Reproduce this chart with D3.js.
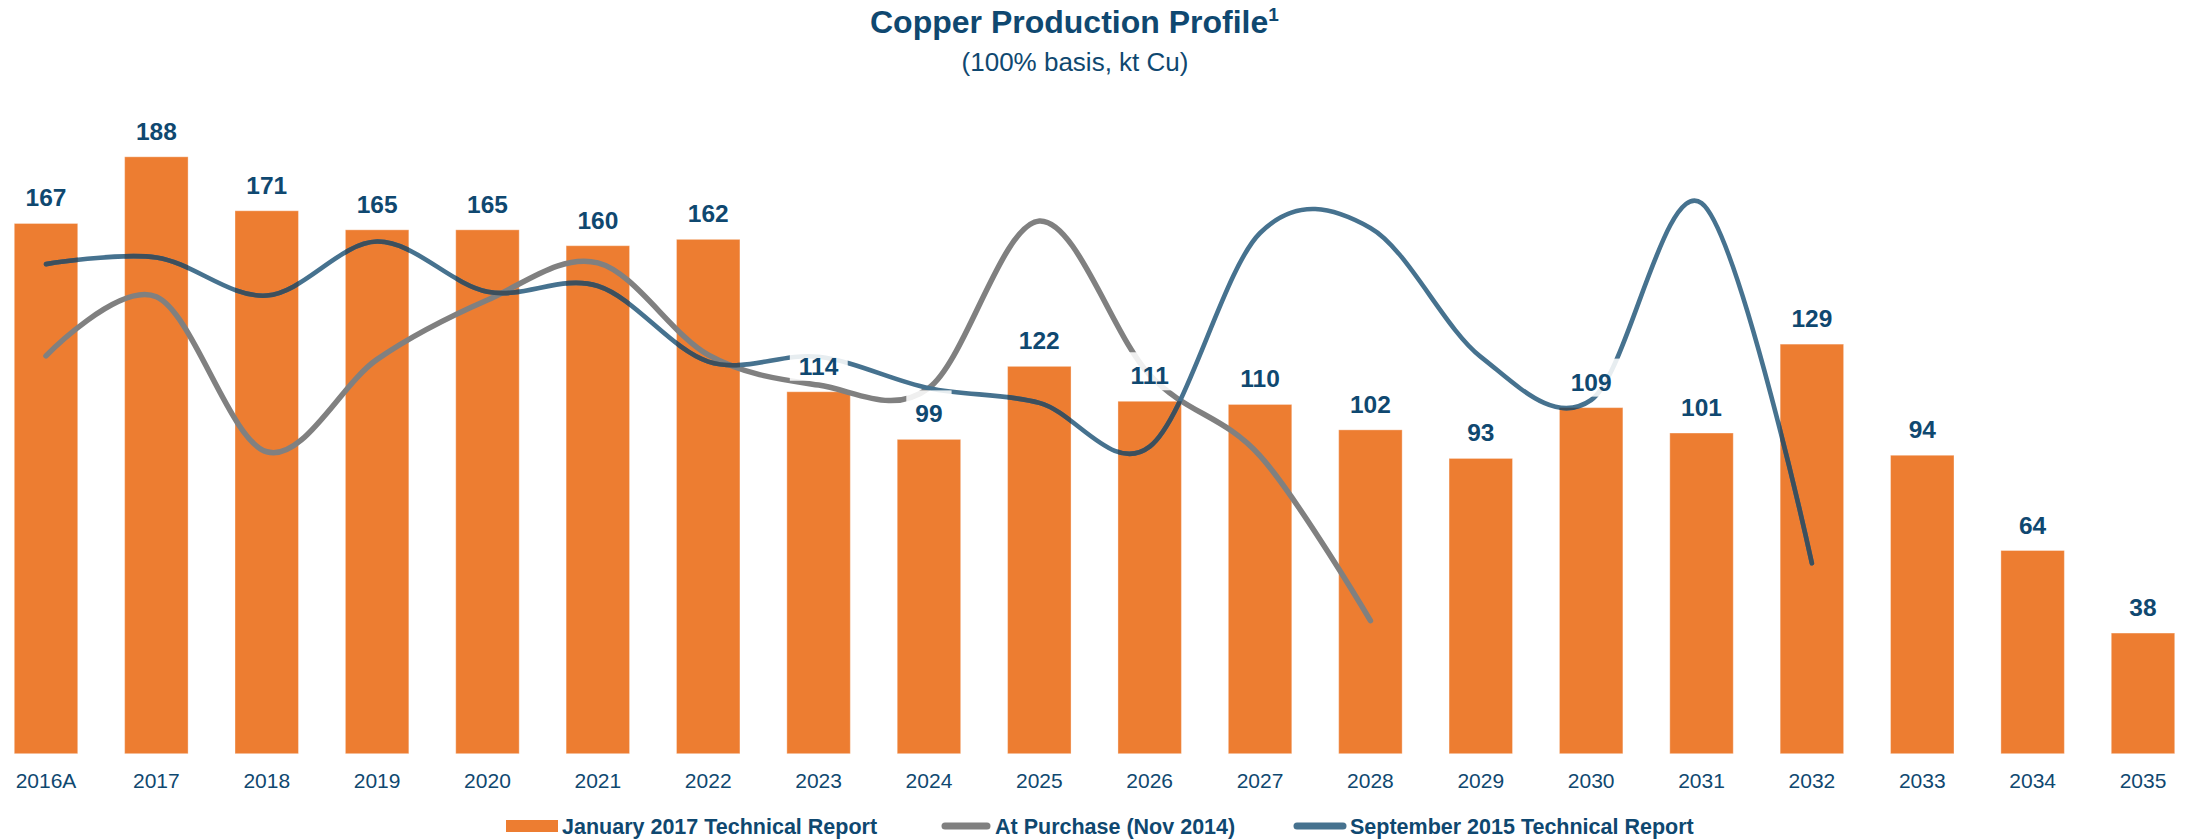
<!DOCTYPE html>
<html>
<head>
<meta charset="utf-8">
<script src="https://cdn.jsdelivr.net/npm/d3@7"></script>
<style>
  html, body { margin: 0; padding: 0; background: #ffffff; }
  svg { display: block; }
  text { font-family: "Liberation Sans", Arial, sans-serif; }
</style>
</head>
<body>
<script>
// ---- data ----
const categories = ["2016A","2017","2018","2019","2020","2021","2022","2023","2024","2025",
                    "2026","2027","2028","2029","2030","2031","2032","2033","2034","2035"];
const jan2017Report = [167,188,171,165,165,160,162,114,99,122,111,110,102,93,109,101,129,94,64,38];
const atPurchaseCats = ["2016A","2017","2018","2019","2020","2021","2022","2023","2024","2025","2026","2027","2028"];
const atPurchase = [125.3,143.9,95.1,124.2,142.9,154.6,125.6,116.1,115.2,167.8,119.3,93.8,41.9];
const sep2015Cats = ["2016A","2017","2018","2019","2020","2021","2022","2023","2024","2025","2026","2027","2028","2029","2030","2031","2032"];
const sep2015Report = [154.2,156.3,144.3,161.3,145.5,147.3,123.5,125.0,115.1,110.5,96.7,164.0,165.6,125.0,111.4,173.4,60.0];
const seriesNames = ["January 2017 Technical Report","At Purchase (Nov 2014)","September 2015 Technical Report"];
const titleText = "Copper Production Profile";
const titleSup = "1";
const subtitleText = "(100% basis, kt Cu)";

// ---- style ----
const W = 2186, H = 839;
const orange = "#ED7D31", gray = "#808080", blue = "#46728F", blueOnBar = "#3d4f5c";
const textColor = "#0f4870";

const svg = d3.select("body").append("svg").attr("width", W).attr("height", H);

const x = d3.scaleBand().domain(categories).range([-7.8, 2196.8])
  .paddingInner(0.425).paddingOuter(0.2);
const y = d3.scaleLinear().domain([0, 200]).range([753.7, 118.7]);

// title
const title = svg.append("text").attr("x", 870).attr("y", 33)
  .attr("font-size", 32).attr("font-weight", "bold").attr("fill", textColor);
title.append("tspan").text(titleText);
title.append("tspan").attr("font-size", 19).attr("dy", -12).text(titleSup);
svg.append("text").attr("x", 1075).attr("y", 71).attr("text-anchor", "middle")
  .attr("font-size", 26).attr("fill", textColor).text(subtitleText);

// bars
const barData = categories.map((c, i) => ({ c, v: jan2017Report[i] }));
svg.append("g").selectAll("rect").data(barData).join("rect")
  .attr("x", d => x(d.c)).attr("width", x.bandwidth())
  .attr("y", d => y(d.v)).attr("height", d => y(0) - y(d.v))
  .attr("fill", orange).attr("stroke", "rgba(255,255,255,0.35)").attr("stroke-width", 1);

// clip for darker blue where it crosses bars
const clip = svg.append("defs").append("clipPath").attr("id", "barclip");
clip.selectAll("rect").data(barData).join("rect")
  .attr("x", d => x(d.c)).attr("width", x.bandwidth())
  .attr("y", d => y(d.v)).attr("height", d => y(0) - y(d.v));

const line = d3.line()
  .x(d => x(d.c) + x.bandwidth() / 2)
  .y(d => y(d.v))
  .curve(d3.curveCardinal.tension(0));

const grayData = atPurchaseCats.map((c, i) => ({ c, v: atPurchase[i] }));
const blueData = sep2015Cats.map((c, i) => ({ c, v: sep2015Report[i] }));

svg.append("path").datum(grayData).attr("d", line)
  .attr("fill", "none").attr("stroke", gray).attr("stroke-width", 5.5)
  .attr("stroke-linecap", "round").attr("stroke-linejoin", "round");
svg.append("path").datum(blueData).attr("d", line)
  .attr("fill", "none").attr("stroke", blue).attr("stroke-width", 4.6)
  .attr("stroke-linecap", "round").attr("stroke-linejoin", "round");
svg.append("path").datum(blueData).attr("d", line)
  .attr("clip-path", "url(#barclip)")
  .attr("fill", "none").attr("stroke", blueOnBar).attr("stroke-width", 4.6)
  .attr("stroke-linecap", "round").attr("stroke-linejoin", "round");

// data labels with semi-transparent white boxes
const lg = svg.append("g");
barData.forEach(d => {
  const cx = x(d.c) + x.bandwidth() / 2;
  const by = y(d.v) - 17;
  const box = lg.append("rect").attr("fill", "#ffffff").attr("fill-opacity", 0.87);
  const t = lg.append("text").attr("x", cx).attr("y", by).attr("text-anchor", "middle")
    .attr("font-size", 24.5).attr("font-weight", "bold").attr("fill", textColor)
    .text(d3.format("d")(d.v));
  const bb = t.node().getBBox();
  box.attr("x", bb.x - 9).attr("width", bb.width + 18)
     .attr("y", by - 32).attr("height", 38);
});

// x axis
const ax = svg.append("g").attr("transform", `translate(0,${y(0)})`)
  .call(d3.axisBottom(x).tickSize(0).tickPadding(19));
ax.select(".domain").remove();
ax.selectAll("text").attr("font-size", 21).attr("fill", textColor)
  .attr("font-family", "'Liberation Sans', Arial, sans-serif");

// legend
const legY = 826;
const leg = svg.append("g").attr("font-size", 21.5).attr("font-weight", "bold").attr("fill", textColor);
leg.append("rect").attr("x", 506).attr("y", legY - 6).attr("width", 52).attr("height", 12).attr("fill", orange);
leg.append("text").attr("x", 562).attr("y", legY).attr("dy", "0.35em").text(seriesNames[0]);
leg.append("line").attr("x1", 945).attr("x2", 987).attr("y1", legY).attr("y2", legY)
  .attr("stroke", gray).attr("stroke-width", 7).attr("stroke-linecap", "round");
leg.append("text").attr("x", 995).attr("y", legY).attr("dy", "0.35em").text(seriesNames[1]);
leg.append("line").attr("x1", 1297).attr("x2", 1343).attr("y1", legY).attr("y2", legY)
  .attr("stroke", blue).attr("stroke-width", 7).attr("stroke-linecap", "round");
leg.append("text").attr("x", 1350).attr("y", legY).attr("dy", "0.35em").text(seriesNames[2]);
</script>
</body>
</html>
